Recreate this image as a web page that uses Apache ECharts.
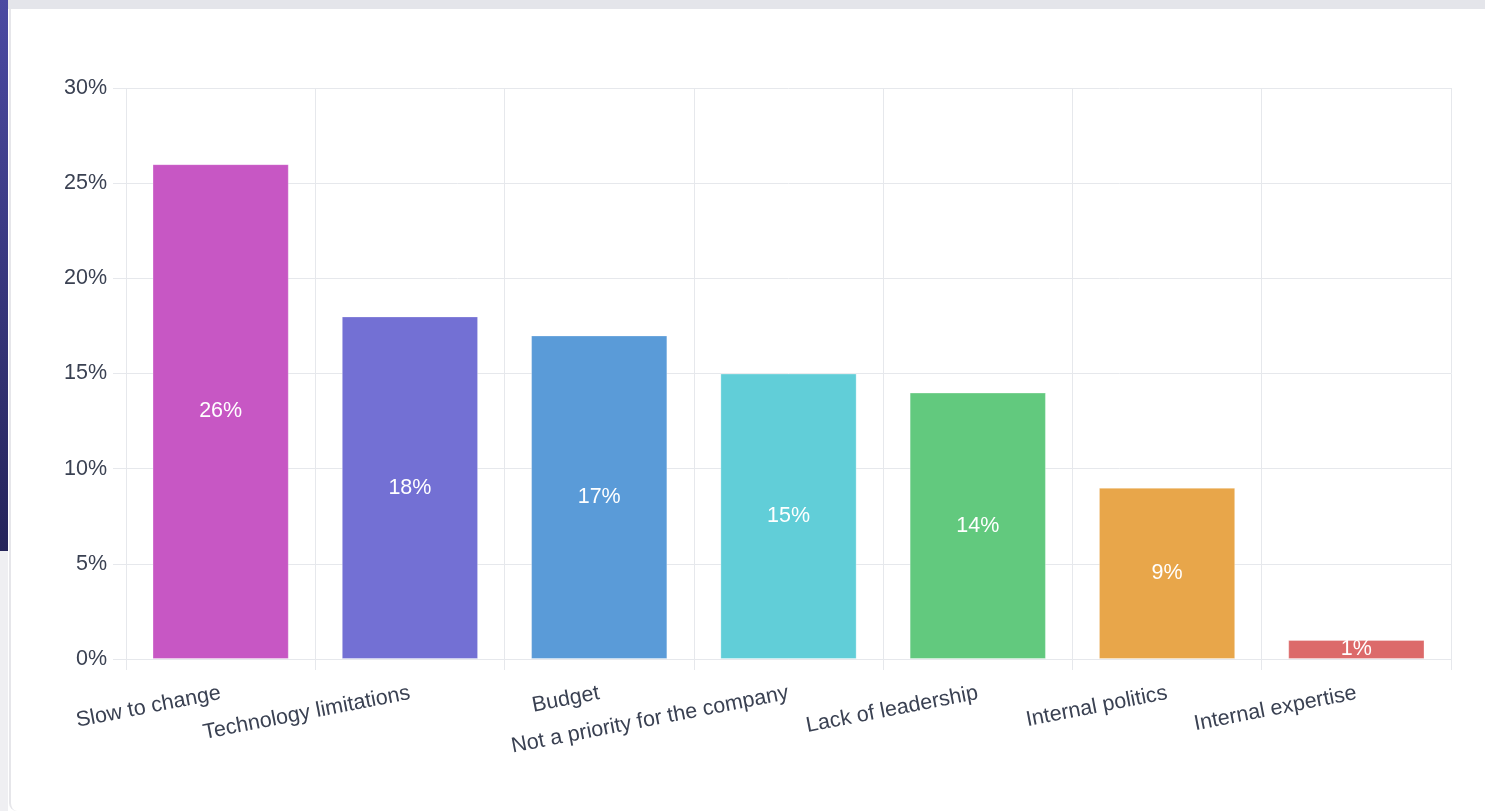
<!DOCTYPE html>
<html>
<head>
<meta charset="utf-8">
<script src="https://cdn.jsdelivr.net/npm/echarts@6/dist/echarts.min.js"></script>
<style>
  html, body { margin:0; padding:0; width:1485px; height:811px; overflow:hidden; background:#ffffff; }
  #stripTop { position:absolute; left:0; top:0; width:8px; height:551px; background:linear-gradient(#4b4aa2, #25245a); }
  #stripBottom { position:absolute; left:0; top:551px; width:8px; height:260px; background:#efeff2; }
  #topBar { position:absolute; left:8px; top:0; right:0; height:9px; background:#e4e5ea; }
  #card { position:absolute; left:9px; top:9px; right:0; bottom:0; background:#fff; border-left:2px solid #e6e6ea; border-bottom-left-radius:8px; }
  #chart { position:absolute; left:11px; top:9px; width:1474px; height:802px; }
</style>
</head>
<body>
<div id="stripTop"></div>
<div id="stripBottom"></div>
<div id="topBar"></div>
<div id="card"></div>
<div id="chart"></div>
<script>
const categories = ["Slow to change", "Technology limitations", "Budget", "Not a priority for the company", "Lack of leadership", "Internal politics", "Internal expertise"];
const values = [26, 18, 17, 15, 14, 9, 1];
const barColors = ["#c757c4", "#7370d4", "#5a9bd8", "#61ced8", "#62c97e", "#e8a64a", "#dc6a6a"];
const yTicks = [0, 5, 10, 15, 20, 25, 30];

const gridColor = "#e6e8ec";
const textColor = "#3a4152";
const fontFam = "'Liberation Sans', Arial, Helvetica, sans-serif";

const chart = echarts.init(document.getElementById('chart'), null, { renderer: 'canvas' });
chart.setOption({
  animation: false,
  grid: { left: 115, right: 34, top: 79, bottom: 152, containLabel: false },
  xAxis: {
    type: 'category',
    data: categories,
    boundaryGap: true,
    axisLine: { show: true, lineStyle: { color: gridColor, width: 1 } },
    axisTick: { show: true, length: 11, lineStyle: { color: gridColor } },
    splitLine: { show: true, lineStyle: { color: gridColor, width: 1 } },
    axisLabel: { rotate: 11, margin: 34, fontSize: 21.5, color: textColor, fontFamily: fontFam, interval: 0 }
  },
  yAxis: {
    type: 'value',
    min: yTicks[0],
    max: yTicks[yTicks.length - 1],
    interval: 5,
    axisLine: { show: false },
    axisTick: { show: true, length: 13, lineStyle: { color: gridColor } },
    splitLine: { show: true, lineStyle: { color: gridColor, width: 1 } },
    axisLabel: { margin: 19, fontSize: 21.5, color: textColor, fontFamily: fontFam, padding: [3, 0, 0, 0], formatter: v => v + '%' }
  },
  series: [{
    type: 'bar',
    data: values.map((v, i) => ({ value: v, itemStyle: { color: barColors[i] } })),
    barCategoryGap: '28%',
    itemStyle: { borderWidth: 1, borderColor: 'rgba(255,255,255,0.3)' },
    label: { show: true, position: 'inside', color: '#ffffff', fontSize: 21.5, fontFamily: fontFam, formatter: p => p.value + '%' }
  }]
});
</script>
</body>
</html>
